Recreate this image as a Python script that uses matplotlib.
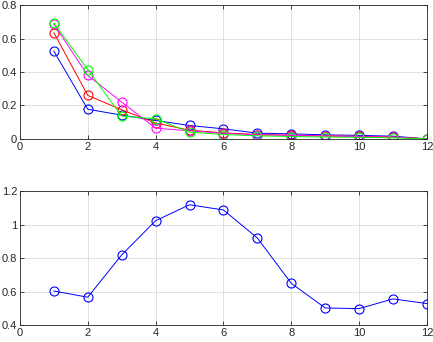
import numpy as np
import matplotlib.pyplot as plt

plt.rcParams['font.family'] = ['Liberation Sans', 'DejaVu Sans']

x = np.arange(1, 13)

# top panel
blue_top = [0.525, 0.177, 0.142, 0.11, 0.08, 0.06, 0.034, 0.03, 0.024, 0.021, 0.016, 0.0]
red_top = [0.635, 0.26, 0.174, 0.095, 0.052, 0.036, 0.026, 0.022, 0.018, 0.015, 0.011, 0.0]
magenta_top = [0.686, 0.38, 0.22, 0.064, 0.048, 0.032, 0.024, 0.02, 0.017, 0.013, 0.01, 0.0]
green_top = [0.694, 0.414, 0.136, 0.12, 0.04, 0.026, 0.018, 0.014, 0.011, 0.009, 0.006, 0.0]

# bottom panel
blue_bottom = [0.604, 0.567, 0.819, 1.023, 1.118, 1.087, 0.92, 0.65, 0.503, 0.499, 0.557, 0.529]

fig = plt.figure(figsize=(4.33, 3.42), dpi=100)
ax1 = fig.add_axes([0.046, 0.594, 0.94, 0.391])
ax2 = fig.add_axes([0.046, 0.049, 0.94, 0.3925])

mk = dict(marker='o', markersize=6.5, markerfacecolor='none', linewidth=0.7, markeredgewidth=0.8)
ax1.plot(x, blue_top, color='#0000ff', **mk)
ax1.plot(x, red_top, color='#ff0000', **mk)
ax1.plot(x, magenta_top, color='#ff00ff', **mk)
ax1.plot(x, green_top, color='#00ff00', **mk)
ax1.set_xlim(0, 12)
ax1.set_ylim(0, 0.8)
ax1.set_xticks([0, 2, 4, 6, 8, 10, 12])
ax1.set_yticks([0, 0.2, 0.4, 0.6, 0.8])
ax1.set_yticklabels(['0', '0.2', '0.4', '0.6', '0.8'])

ax2.plot(x, blue_bottom, color='#0000ff', **mk)
ax2.set_xlim(0, 12)
ax2.set_ylim(0.4, 1.2)
ax2.set_xticks([0, 2, 4, 6, 8, 10, 12])
ax2.set_yticks([0.4, 0.6, 0.8, 1.0, 1.2])
ax2.set_yticklabels(['0.4', '0.6', '0.8', '1', '1.2'])

for ax in (ax1, ax2):
    ax.grid(True, color='#dcdcdc', linewidth=0.6)
    ax.set_axisbelow(True)
    ax.tick_params(direction='in', top=True, right=True, length=3, width=0.6,
                   labelsize=8, colors='#262626', pad=2)
    for s in ax.spines.values():
        s.set_color('#262626')
        s.set_linewidth(0.6)

fig.savefig('out.png', dpi=100)
